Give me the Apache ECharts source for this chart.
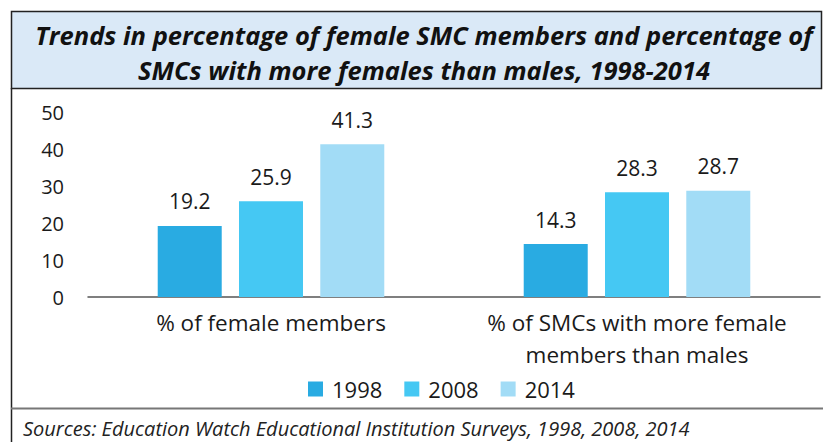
<!DOCTYPE html>
<html>
<head>
<meta charset="utf-8">
<script src="https://cdn.jsdelivr.net/npm/echarts@6/dist/echarts.min.js"></script>
<style>
  html, body { margin: 0; padding: 0; background: #fff; }
  #main { width: 823px; height: 442px; }
</style>
</head>
<body>
<div id="main"></div>
<script>
// data
var categories = ['% of female members', '% of SMCs with more female\nmembers than males']
var years = ['1998', '2008', '2014']
var v1998 = [19.2, 14.3]
var v2008 = [25.9, 28.3]
var v2014 = [41.3, 28.7]
var yMin = 0
var yMax = 50
var yStep = 10

var titleText = 'Trends in percentage of female SMC members and percentage of\nSMCs with more females than males, 1998-2014'
var sourceText = 'Sources: Education Watch Educational Institution Surveys, 1998, 2008, 2014'

var colors = ['#29abe2', '#45c8f3', '#a2dcf6']
var font = '"Open Sans", Lato, sans-serif'

var myChart = echarts.init(document.getElementById('main'), null, { renderer: 'svg' })

function makeSeries(name, data) {
  return {
    name: name,
    type: 'bar',
    data: data,
    barWidth: 64,
    barGap: '27%',
    label: {
      show: true,
      position: 'top',
      distance: 14,
      fontFamily: font,
      fontSize: 21,
      color: '#1a1a1a'
    }
  }
}

var option = {
  animation: false,
  color: colors,
  textStyle: { fontFamily: font },
  graphic: [
    // title box
    {
      type: 'rect',
      shape: { x: 11.5, y: 11.5, width: 810, height: 77 },
      style: { fill: '#dae9f7', stroke: '#222', lineWidth: 1.5 },
      z: -10
    },
    {
      type: 'text',
      x: 424,
      y: 52,
      style: {
        text: titleText,
        fontFamily: font,
        fontStyle: 'italic',
        fontWeight: 'bold',
        fontSize: 25.5,
        lineHeight: 35,
        fill: '#111',
        align: 'center',
        verticalAlign: 'middle'
      }
    },
    // left border and bottom separator
    {
      type: 'line',
      shape: { x1: 11.5, y1: 88, x2: 11.5, y2: 442 },
      style: { stroke: '#222', lineWidth: 1.5 }
    },
    {
      type: 'line',
      shape: { x1: 11, y1: 408.5, x2: 823, y2: 408.5 },
      style: { stroke: '#777', lineWidth: 2 }
    },
    {
      type: 'text',
      x: 23,
      y: 428,
      style: {
        text: sourceText,
        fontFamily: font,
        fontStyle: 'italic',
        fontSize: 20,
        fill: '#222',
        verticalAlign: 'middle'
      }
    }
  ],
  legend: {
    data: years,
    left: 303,
    top: 373,
    itemWidth: 15,
    itemHeight: 15,
    itemGap: 22,
    icon: 'rect',
    textStyle: {
      fontFamily: font,
      fontSize: 22,
      color: '#1a1a1a',
      padding: [0, 0, 0, 4]
    }
  },
  grid: {
    left: 88,
    right: 3,
    top: 112,
    bottom: 145
  },
  xAxis: {
    type: 'category',
    data: categories,
    axisLine: { lineStyle: { color: '#555', width: 1.5 } },
    axisTick: { show: false },
    axisLabel: {
      interval: 0,
      margin: 9,
      fontFamily: font,
      fontSize: 22.5,
      lineHeight: 32,
      color: '#1a1a1a'
    }
  },
  yAxis: {
    type: 'value',
    min: yMin,
    max: yMax,
    interval: yStep,
    splitLine: { show: false },
    axisLine: { show: false },
    axisTick: { show: false },
    axisLabel: {
      margin: 24,
      fontFamily: font,
      fontSize: 20,
      color: '#1a1a1a'
    }
  },
  series: [
    makeSeries(years[0], v1998),
    makeSeries(years[1], v2008),
    makeSeries(years[2], v2014)
  ]
}

myChart.setOption(option)
</script>
</body>
</html>
